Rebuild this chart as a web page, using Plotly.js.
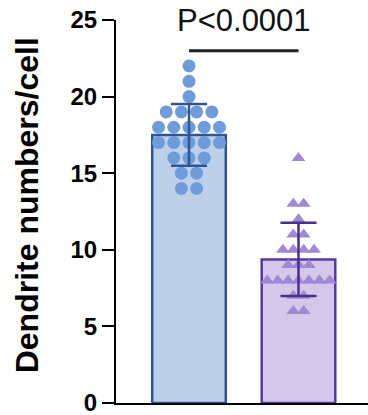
<!DOCTYPE html>
<html>
<head>
<meta charset="utf-8">
<script src="https://cdn.plot.ly/plotly-3.0.1.min.js"></script>
<style>html,body{margin:0;padding:0;background:#fff;}#chart{width:368px;height:415px;}</style>
</head>
<body>
<div id="chart"></div>
<script>
// ---- data ----
const groups = ["Control", "Treated"];
const controlValues = [22, 21, 20, 19, 19, 19, 19, 18, 18, 18, 18, 18, 17, 17, 17, 17, 17, 16, 16, 16, 15, 15, 14, 14];
const treatedValues = [16, 13, 13, 12, 11, 11, 10, 10, 10, 10, 9, 9, 9, 8, 8, 8, 8, 8, 8, 8, 7, 7, 6, 6];
const yTicks = [0, 5, 10, 15, 20, 25];
const pLabel = "P<0.0001";
const yTitle = "Dendrite numbers/cell";

// ---- helpers ----
function mean(a){ return a.reduce((s,v)=>s+v,0)/a.length; }
function sd(a){ const m=mean(a); return Math.sqrt(a.reduce((s,v)=>s+(v-m)*(v-m),0)/(a.length-1)); }
function swarm(vals, center, step){
  const counts = {}, idx = {};
  vals.forEach(v=>{counts[v]=(counts[v]||0)+1;});
  return vals.map(v=>{
    idx[v]=(idx[v]||0);
    const k=idx[v]++; const n=counts[v];
    return center + (k-(n-1)/2)*step;
  });
}

const series = [controlValues, treatedValues];
const fills = ["#bdd0ea", "#d4c7ea"];
const lines = ["#2f5597", "#553a98"];
const markerCols = ["#6f9bd8", "#a088d4"];
const errCols = ["#2f5597", "#4a2d8c"];
const symbols = ["circle", "triangle-up"];
const steps = [0.139, 0.095];
const sizes = [13, 12];

const traces = [];
series.forEach((vals,i)=>{
  traces.push({type:"bar", x:[i], y:[mean(vals)], width:0.672,
    marker:{color:fills[i], line:{color:lines[i], width:2.5}}, hoverinfo:"skip"});
});
series.forEach((vals,i)=>{
  traces.push({type:"scatter", mode:"markers", x:swarm(vals,i,steps[i]), y:vals,
    marker:{color:markerCols[i], symbol:symbols[i], size:sizes[i], line:{width:0}}, cliponaxis:false});
});
series.forEach((vals,i)=>{
  traces.push({type:"scatter", mode:"markers", x:[i], y:[mean(vals)],
    marker:{opacity:0, size:1},
    error_y:{type:"data", array:[sd(vals)], visible:true, color:errCols[i], thickness:2.5, width:18}});
});

const layout = {
  width:368, height:415,
  margin:{l:116, r:0, t:20, b:12},
  paper_bgcolor:"#fff", plot_bgcolor:"#fff",
  showlegend:false,
  bargap:0,
  font:{family:"Liberation Sans, Arial, sans-serif", color:"#000"},
  xaxis:{range:[-0.667,1.635], showticklabels:false, ticks:"", showgrid:false, zeroline:false,
    showline:true, linecolor:"#000", linewidth:2, fixedrange:true},
  yaxis:{range:[0,25], tickvals:yTicks, ticktext:yTicks.map(String), ticks:"outside", ticklen:12, tickwidth:2,
    tickcolor:"#000", showline:true, linecolor:"#000", linewidth:2, showgrid:false, zeroline:false,
    ticklabeloverflow:"allow",
    tickfont:{size:24, family:"Liberation Sans, Arial, sans-serif", weight:"bold"}},
  shapes:[{type:"line", xref:"x", yref:"y", x0:0, x1:1, y0:23, y1:23, line:{color:"#231f20", width:3}}],
  annotations:[
    {xref:"x", yref:"y", x:0.5, y:23, yanchor:"bottom", yshift:11, showarrow:false,
      text:pLabel, font:{size:31, color:"#111"}},
    {xref:"paper", yref:"paper", x:-0.352, y:0.517, xanchor:"center", yanchor:"middle", textangle:-90,
      showarrow:false, text:"<b>"+yTitle+"</b>", font:{size:32, color:"#000"}}
  ]
};
Plotly.newPlot("chart", traces, layout, {displayModeBar:false, staticPlot:true});
</script>
</body>
</html>
